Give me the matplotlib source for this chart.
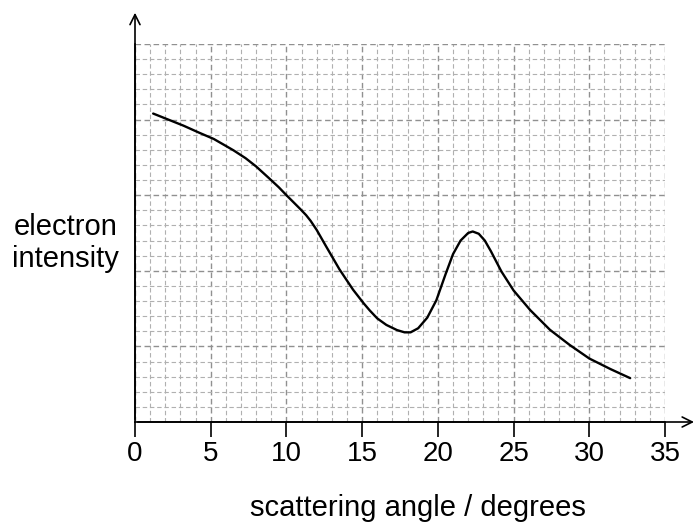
import matplotlib.pyplot as plt
from matplotlib.ticker import MultipleLocator

plt.rcParams['font.family'] = ['Liberation Sans', 'DejaVu Sans']

# points (scattering angle, intensity in grid units)
angle = [1.2, 2.2, 3.2, 4.2, 5.2, 6.0, 6.5, 7.3, 8.0, 8.9, 9.5, 10.0, 10.5,
         10.9, 11.3, 11.6, 12.0, 12.6, 13.5, 14.4, 15.1, 15.5, 16.0, 16.6,
         17.3, 17.8, 18.2, 18.7, 19.3, 19.9, 20.5, 21.0, 21.5, 22.0, 22.3,
         22.7, 23.1, 23.5, 24.2, 25.0, 26.1, 27.4, 28.7, 30.0, 31.4, 32.7]
intensity = [20.4, 20.0, 19.6, 19.15, 18.72, 18.26, 17.97, 17.45, 16.9, 16.08,
             15.52, 15.0, 14.5, 14.1, 13.68, 13.3, 12.7, 11.65, 10.1, 8.75,
             7.85, 7.38, 6.85, 6.42, 6.08, 5.93, 5.93, 6.2, 6.9, 8.05, 9.75,
             11.1, 12.0, 12.5, 12.6, 12.45, 12.0, 11.3, 9.95, 8.7, 7.4, 6.1,
             5.1, 4.2, 3.5, 2.9]
xticks = [0, 5, 10, 15, 20, 25, 30, 35]

fig = plt.figure(figsize=(6.97, 5.27), dpi=100)
ax = fig.add_axes([135/697, 105/527, 530/697, 378/527])
ax.set_xlim(0, 35)
ax.set_ylim(0, 25)

# grid paper
ax.xaxis.set_major_locator(MultipleLocator(5))
ax.xaxis.set_minor_locator(MultipleLocator(1))
ax.yaxis.set_major_locator(MultipleLocator(5))
ax.yaxis.set_minor_locator(MultipleLocator(1))
ax.grid(which='major', color='#909090', linestyle=(0, (4, 2.5)), linewidth=1.0)
ax.grid(which='minor', color='#b0b0b0', linestyle=(0, (4, 2.5)), linewidth=0.8)
ax.set_axisbelow(True)

ax.plot(angle, intensity, color='black', linewidth=1.7,
        solid_capstyle='round', solid_joinstyle='round')

ax.set_xticks(xticks)
ax.tick_params(axis='x', which='major', direction='out', length=11, width=1.2,
               labelsize=20, pad=3)
ax.tick_params(axis='x', which='minor', length=0)
ax.tick_params(axis='y', which='both', length=0, labelleft=False)

for s in ['top', 'right']:
    ax.spines[s].set_visible(False)
for s in ['left', 'bottom']:
    ax.spines[s].set_linewidth(1.2)

# axis arrows
ax.annotate('', xy=(1.06, 0), xytext=(0, 0), xycoords='axes fraction',
            arrowprops=dict(arrowstyle='->', color='black', lw=1.2,
                            mutation_scale=18), annotation_clip=False)
ax.annotate('', xy=(0, 1.09), xytext=(0, 0), xycoords='axes fraction',
            arrowprops=dict(arrowstyle='->', color='black', lw=1.2,
                            mutation_scale=18), annotation_clip=False)

fig.text(0.600, 0.037, 'scattering angle / degrees', fontsize=21,
         ha='center', va='center')
fig.text(0.094, 0.539, 'electron\nintensity', fontsize=21, ha='center',
         va='center', linespacing=1.15)

fig.savefig('out.png', dpi=100)
